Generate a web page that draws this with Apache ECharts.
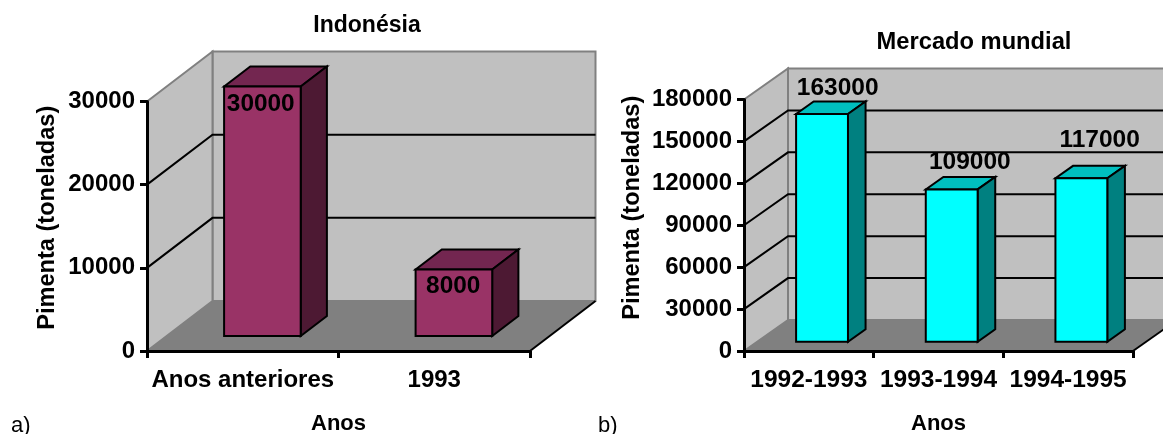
<!DOCTYPE html>
<html lang="pt">
<head>
    <meta charset="UTF-8">
    <title>Pimenta</title>
    <script src="https://cdn.jsdelivr.net/npm/echarts@6/dist/echarts.min.js"></script>
    <style type="text/css">
        body{
            margin:0;
            background:#fff;
        }
    </style>
</head>
<body>
<div id="main" style="width:1163px;height:434px;"></div>
<script type="text/javascript">
    var indoCategories = ['Anos anteriores', '1993'];
    var indoValues = [30000, 8000];
    var indoTicks = [0, 10000, 20000, 30000];

    var worldCategories = ['1992-1993', '1993-1994', '1994-1995'];
    var worldValues = [163000, 109000, 117000];
    var worldTicks = [0, 30000, 60000, 90000, 120000, 150000, 180000];

    var FONT = '"Liberation Sans", Arial, sans-serif';
    var myChart = echarts.init(document.getElementById('main'));

    // walls, floor and gridlines of the fake 3D box
    function wallRenderer(dx, dy) {
        return function (params, api) {
            var rect = params.coordSys;
            var tick = api.value(1);
            var y = api.coord([0, tick])[1];
            var x0 = rect.x, x1 = rect.x + rect.width;
            var children = [];
            if (params.dataIndex === 0) {
                var yTop = rect.y;
                children.push({
                    type: 'polygon',
                    shape: {points: [[x0 + dx, yTop - dy], [x1 + dx, yTop - dy], [x1 + dx, y - dy], [x0 + dx, y - dy]]},
                    style: {fill: '#c0c0c0', stroke: '#808080', lineWidth: 2}
                });
                children.push({
                    type: 'polygon',
                    shape: {points: [[x0, yTop], [x0 + dx, yTop - dy], [x0 + dx, y - dy], [x0, y]]},
                    style: {fill: '#c0c0c0', stroke: '#808080', lineWidth: 2}
                });
                children.push({
                    type: 'polygon',
                    shape: {points: [[x0, y], [x1, y], [x1 + dx, y - dy], [x0 + dx, y - dy]]},
                    style: {fill: '#808080'}
                });
                children.push({
                    type: 'line',
                    shape: {x1: x1, y1: y, x2: x1 + dx, y2: y - dy},
                    style: {stroke: '#000', lineWidth: 2}
                });
            } else if (y > rect.y + 1) {
                children.push({
                    type: 'polyline',
                    shape: {points: [[x0, y], [x0 + dx, y - dy], [x1 + dx, y - dy]]},
                    style: {stroke: '#000', lineWidth: 2, fill: null}
                });
            }
            return {type: 'group', children: children};
        };
    }

    // one prism per category, depth runs from 30% to 70% of the box
    function barRenderer(dx, dy, colors, labelOffsets, labelSize) {
        return function (params, api) {
            var top = api.coord([api.value(0), api.value(1)]);
            var base = api.coord([api.value(0), 0]);
            var half = api.size([1, 0])[0] * 0.2;
            var fx = dx * 0.3, fy = dy * 0.3;
            var bx = dx * 0.4, by = dy * 0.4;
            var l = top[0] - half + fx, r = top[0] + half + fx;
            var t = top[1] - fy, b = base[1] - fy;
            var off = labelOffsets[params.dataIndex];
            return {
                type: 'group',
                children: [{
                    type: 'polygon',
                    shape: {points: [[l, t], [r, t], [r + bx, t - by], [l + bx, t - by]]},
                    style: {fill: colors[1], stroke: '#000', lineWidth: 2}
                }, {
                    type: 'polygon',
                    shape: {points: [[r, t], [r + bx, t - by], [r + bx, b - by], [r, b]]},
                    style: {fill: colors[2], stroke: '#000', lineWidth: 2}
                }, {
                    type: 'rect',
                    shape: {x: l, y: t, width: r - l, height: b - t},
                    style: {fill: colors[0], stroke: '#000', lineWidth: 2}
                }, {
                    type: 'text',
                    x: top[0] + off[0],
                    y: top[1] + off[1],
                    style: {
                        text: String(api.value(1)),
                        fill: '#000',
                        font: 'bold ' + labelSize + 'px ' + FONT,
                        textAlign: 'center',
                        textVerticalAlign: 'middle'
                    }
                }]
            };
        };
    }

    function xAxisFor(index, categories, labelSize) {
        return {
            type: 'category',
            gridIndex: index,
            data: categories,
            z: 10,
            name: 'Anos',
            nameLocation: 'middle',
            nameGap: 62,
            nameTextStyle: {color: '#000', fontFamily: FONT, fontWeight: 'bold', fontSize: 22},
            axisLine: {lineStyle: {color: '#000', width: 3}},
            axisTick: {show: true, alignWithLabel: false, length: 7, lineStyle: {color: '#000', width: 3}},
            axisLabel: {color: '#000', fontFamily: FONT, fontWeight: 'bold', fontSize: labelSize, margin: 17, interval: 0},
            splitLine: {show: false}
        };
    }

    function yAxisFor(index, max, interval, nameGap, padding) {
        return {
            type: 'value',
            gridIndex: index,
            min: 0,
            max: max,
            interval: interval,
            z: 10,
            name: 'Pimenta (toneladas)',
            nameLocation: 'middle',
            nameGap: nameGap,
            nameTextStyle: {color: '#000', fontFamily: FONT, fontWeight: 'bold', fontSize: 23.6, padding: padding},
            axisLine: {show: true, lineStyle: {color: '#000', width: 3}},
            axisTick: {show: true, length: 7, lineStyle: {color: '#000', width: 3}},
            axisLabel: {
                color: '#000', fontFamily: FONT, fontWeight: 'bold', fontSize: 24, margin: 12,
                formatter: function (v) { return String(v); }
            },
            splitLine: {show: false}
        };
    }

    var option = {
        animation: false,
        title: [
            {text: 'Indonésia', left: 367, top: 14, padding: 0, textAlign: 'center',
                textStyle: {color: '#000', fontFamily: FONT, fontWeight: 'bold', fontSize: 23}},
            {text: 'Mercado mundial', left: 974, top: 30, padding: 0, textAlign: 'center',
                textStyle: {color: '#000', fontFamily: FONT, fontWeight: 'bold', fontSize: 23.7}},
            {text: 'a)', left: 11, top: 415, padding: 0,
                textStyle: {color: '#000', fontFamily: FONT, fontWeight: 'normal', fontSize: 22}},
            {text: 'b)', left: 598, top: 415, padding: 0,
                textStyle: {color: '#000', fontFamily: FONT, fontWeight: 'normal', fontSize: 22}}
        ],
        grid: [
            {left: 147, width: 383, top: 101.5, height: 249.5, outerBoundsMode: 'none'},
            {left: 744, width: 389, top: 99.5, height: 251.5, outerBoundsMode: 'none'}
        ],
        xAxis: [xAxisFor(0, indoCategories, 24), xAxisFor(1, worldCategories, 24.5)],
        yAxis: [
            yAxisFor(0, 30000, 10000, 88, [0, 0, 0, 17]),
            yAxisFor(1, 180000, 30000, 100, [0, 0, 0, 35])
        ],
        series: [
            {
                type: 'custom', name: 'walls a', xAxisIndex: 0, yAxisIndex: 0, z: 1, silent: true,
                encode: {x: 0, y: 1},
                data: indoTicks.map(function (t) { return [0, t]; }),
                renderItem: wallRenderer(65.5, 50)
            },
            {
                type: 'custom', name: 'Indonésia', xAxisIndex: 0, yAxisIndex: 0, z: 2,
                encode: {x: 0, y: 1},
                data: indoValues.map(function (v, i) { return [i, v]; }),
                renderItem: barRenderer(65.5, 50, ['#993366', '#732650', '#4d1933'], [[18, 2.5], [19, 1.5]], 24.4)
            },
            {
                type: 'custom', name: 'walls b', xAxisIndex: 1, yAxisIndex: 1, z: 1, silent: true,
                encode: {x: 0, y: 1},
                data: worldTicks.map(function (t) { return [0, t]; }),
                renderItem: wallRenderer(44, 31)
            },
            {
                type: 'custom', name: 'Mercado mundial', xAxisIndex: 1, yAxisIndex: 1, z: 2,
                encode: {x: 0, y: 1},
                data: worldValues.map(function (v, i) { return [i, v]; }),
                renderItem: barRenderer(44, 31, ['#00ffff', '#00bfbf', '#008080'], [[28.8, -35], [31.3, -36], [31.5, -47.7]], 24.5)
            }
        ]
    };
    myChart.setOption(option);
</script>
</body>
</html>
